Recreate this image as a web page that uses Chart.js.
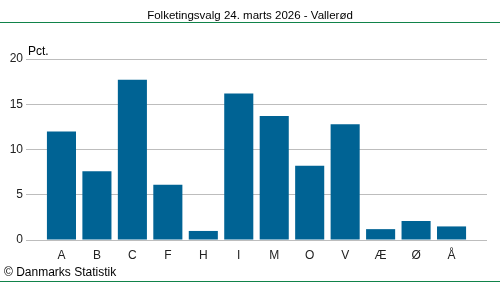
<!DOCTYPE html>
<html>
<head>
<meta charset="utf-8">
<script src="https://cdn.jsdelivr.net/npm/chart.js@4"></script>
<style>
  body { margin: 0; background: #fff; }
  #wrap { width: 500px; height: 282px; }
</style>
</head>
<body>
<div id="wrap"><canvas id="myChart" width="500" height="282"></canvas></div>
<script>
var partier = ["A", "B", "C", "F", "H", "I", "M", "O", "V", "Æ", "Ø", "Å"];
var procent = [12.0, 7.6, 17.7, 6.1, 1.0, 16.2, 13.7, 8.2, 12.8, 1.2, 2.1, 1.5];
var yTicks = [0, 5, 10, 15, 20];

var titel = "Folketingsvalg 24. marts 2026 - Vallerød";
var kilde = "© Danmarks Statistik";
var FONT = "'Liberation Sans', Arial, sans-serif";

// empty slot at each end so the bars sit like the original layout
var labels = [""].concat(partier, [""]);
var values = [null].concat(procent, [null]);

var decor = {
  id: "decor",
  afterDraw: function (chart) {
    var c = chart.ctx;
    c.save();
    c.fillStyle = "#000";
    c.font = "11.5px " + FONT;
    c.textAlign = "center";
    c.textBaseline = "alphabetic";
    c.fillText(titel, 250, 19);
    c.strokeStyle = "#11834a";
    c.lineWidth = 1;
    c.beginPath();
    c.moveTo(0, 22.5); c.lineTo(500, 22.5);
    c.moveTo(0, 281.5); c.lineTo(500, 281.5);
    c.stroke();
    c.textAlign = "left";
    c.font = "12px " + FONT;
    c.fillText("Pct.", 28, 55);
    c.fillText(kilde, 4, 276);
    c.restore();
  },
};

var ctx = document.getElementById("myChart").getContext("2d");
var chart = new Chart(ctx, {
  type: "bar",
  data: {
    labels: labels,
    datasets: [
      {
        data: values,
        backgroundColor: "#006394",
        barPercentage: 0.82,
        categoryPercentage: 1,
      },
    ],
  },
  options: {
    responsive: false,
    animation: false,
    layout: { padding: { top: 59, right: 13, bottom: 0, left: 0 } },
    plugins: {
      legend: { display: false },
      tooltip: { enabled: false },
    },
    scales: {
      x: {
        offset: false,
        grid: { display: false, offset: false },
        border: { display: false },
        ticks: {
          color: "#222",
          font: { family: FONT, size: 12 },
          padding: 0,
          maxRotation: 0,
          autoSkip: false,
        },
        afterFit: function (s) {
          s.height = 42;
          s.paddingLeft = 0;
          s.paddingRight = 0;
        },
      },
      y: {
        min: 0,
        max: 20,
        afterBuildTicks: function (s) {
          s.ticks = yTicks.map(function (v) { return { value: v }; });
        },
        grid: { color: "#bdbdbd", drawTicks: false, lineWidth: 1 },
        border: { display: false },
        ticks: {
          color: "#222",
          font: { family: FONT, size: 12 },
          padding: 3,
        },
        afterFit: function (s) {
          s.width = 26;
          s.paddingTop = 0;
          s.paddingBottom = 0;
        },
      },
    },
  },
  plugins: [decor],
});
</script>
</body>
</html>
